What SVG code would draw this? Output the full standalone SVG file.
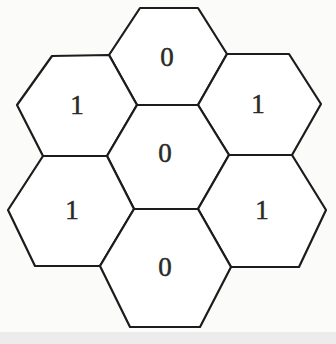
<svg xmlns="http://www.w3.org/2000/svg" width="336" height="344" viewBox="0 0 336 344">
  <style>
    .hex { fill: #ffffff; stroke: #1c1c1c; stroke-width: 2.2; stroke-linejoin: round; }
    .lbl { font-family: "Liberation Serif", "Times New Roman", serif; font-size: 27px; fill: #2a2a2a; stroke: #2a2a2a; stroke-width: 0.5; text-anchor: middle; }
  </style>
  <rect x="0" y="0" width="336" height="344" fill="#fbfbfa"/>
  <rect x="0" y="332" width="336" height="12" fill="#ececec"/>
  <g id="hex-top">
    <polygon class="hex" points="140,8 198,8 227,54 198,105 137,105 109,55"/>
    <text class="lbl" x="167" y="66">0</text>
  </g>
  <g id="hex-upper-left">
    <polygon class="hex" points="52,56 109,55 137,105 107,156 43,156 17,105"/>
    <text class="lbl" x="77" y="114">1</text>
  </g>
  <g id="hex-upper-right">
    <polygon class="hex" points="227,54 289,54 321,104 292,155 229,155 198,105"/>
    <text class="lbl" x="258" y="113">1</text>
  </g>
  <g id="hex-center">
    <polygon class="hex" points="137,105 198,105 229,155 198,209 134,209 107,156"/>
    <text class="lbl" x="165" y="162">0</text>
  </g>
  <g id="hex-lower-left">
    <polygon class="hex" points="43,156 107,156 134,209 100,266 35,266 8,210"/>
    <text class="lbl" x="72" y="219">1</text>
  </g>
  <g id="hex-lower-right">
    <polygon class="hex" points="229,155 292,155 326,210 299,267 231,267 198,209"/>
    <text class="lbl" x="262" y="219">1</text>
  </g>
  <g id="hex-bottom">
    <polygon class="hex" points="134,209 198,209 231,267 200,327 130,327 100,266"/>
    <text class="lbl" x="165" y="276">0</text>
  </g>
  <g id="connectors"></g>
</svg>
